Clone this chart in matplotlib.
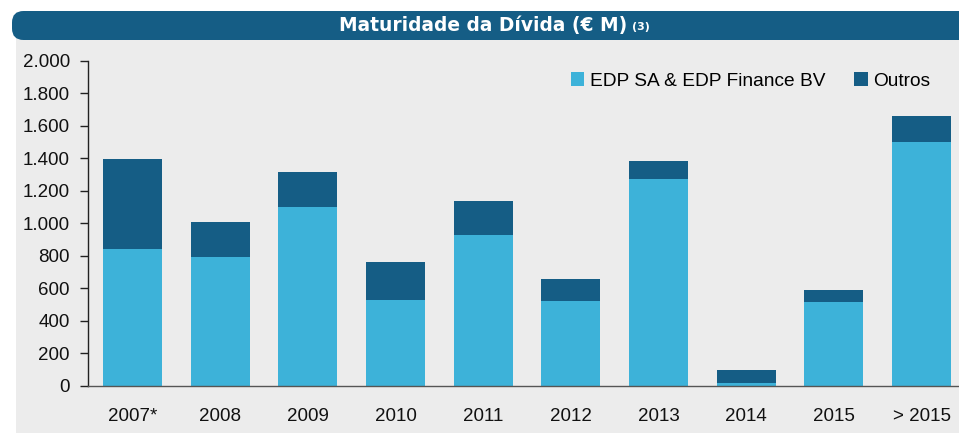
import matplotlib
matplotlib.use("Agg")
import matplotlib.pyplot as plt
from matplotlib.patches import FancyBboxPatch, Rectangle
from matplotlib.ticker import FuncFormatter

categories = ["2007*", "2008", "2009", "2010", "2011", "2012", "2013", "2014", "2015", "> 2015"]
edp_sa = [843, 793, 1100, 529, 929, 523, 1273, 18, 517, 1500]
outros_total = [1395, 1010, 1315, 763, 1138, 658, 1384, 98, 590, 1660]
outros = [t - a for t, a in zip(outros_total, edp_sa)]

LIGHT = "#3db2d9"
DARK = "#155d85"
PANEL = "#ececec"

W, H = 959, 433
fig = plt.figure(figsize=(W / 100, H / 100), dpi=100)
fig.patch.set_facecolor("white")

# gray panel
fig.patches.append(Rectangle((16 / W, 0), 1, 394 / H, transform=fig.transFigure,
                             facecolor=PANEL, edgecolor="none", zorder=-2))
# title banner
fig.patches.append(FancyBboxPatch((12 / W, (H - 40) / H), 1.0, 29 / H,
                                  boxstyle="round,pad=0,rounding_size=0.012",
                                  transform=fig.transFigure, facecolor=DARK,
                                  edgecolor="none", zorder=-1, mutation_aspect=W / H))
fig.text(627 / W, (H - 25) / H, "Maturidade da Dívida (€ M)", color="white",
         fontsize=13.4, fontweight="bold", family="DejaVu Sans", ha="right", va="center")
fig.text(632 / W, (H - 27) / H, "(3)", color="white", fontsize=8,
         fontweight="bold", family="DejaVu Sans", ha="left", va="center")

left, right = 88, 959
bottom, top = 386, 60.7
ax = fig.add_axes([left / W, (H - bottom) / H, (right - left) / W, (bottom - top) / H])
ax.set_facecolor("none")
ax.set_zorder(1)

spacing = 87.67
x = list(range(len(categories)))
bw = 59 / spacing
ax.bar(x, edp_sa, width=bw, color=LIGHT, label="EDP SA & EDP Finance BV", zorder=2)
ax.bar(x, outros, width=bw, bottom=edp_sa, color=DARK, label="Outros", zorder=2)

ax.set_xlim(-(132.5 - left) / spacing, (right - 132.5) / spacing)
ax.set_ylim(0, 2000)
ax.set_yticks(range(0, 2001, 200))
ax.yaxis.set_major_formatter(FuncFormatter(lambda v, p: f"{int(v):,}".replace(",", ".")))
ax.set_xticks(x)
ax.set_xticklabels(categories)

for s in ["top", "right"]:
    ax.spines[s].set_visible(False)
ax.spines["left"].set_color("#222222")
ax.spines["left"].set_linewidth(1.0)
ax.spines["bottom"].set_color("#555555")
ax.spines["bottom"].set_linewidth(1.0)
ax.tick_params(axis="y", length=6, width=1, color="#222222", labelsize=13.5, pad=7,
               labelcolor="#111111")
ax.tick_params(axis="x", length=0, labelsize=13.5, pad=16, labelcolor="#111111")
for t in ax.get_xticklabels() + ax.get_yticklabels():
    t.set_family("Liberation Sans")

leg = ax.legend(loc="upper right", bbox_to_anchor=(0.987, 1.018), ncol=2, frameon=False,
                prop={"family": "Liberation Sans", "size": 13.8},
                handlelength=0.7, handleheight=0.7, handletextpad=0.3, columnspacing=1.5)

fig.savefig("out.png", dpi=100)
